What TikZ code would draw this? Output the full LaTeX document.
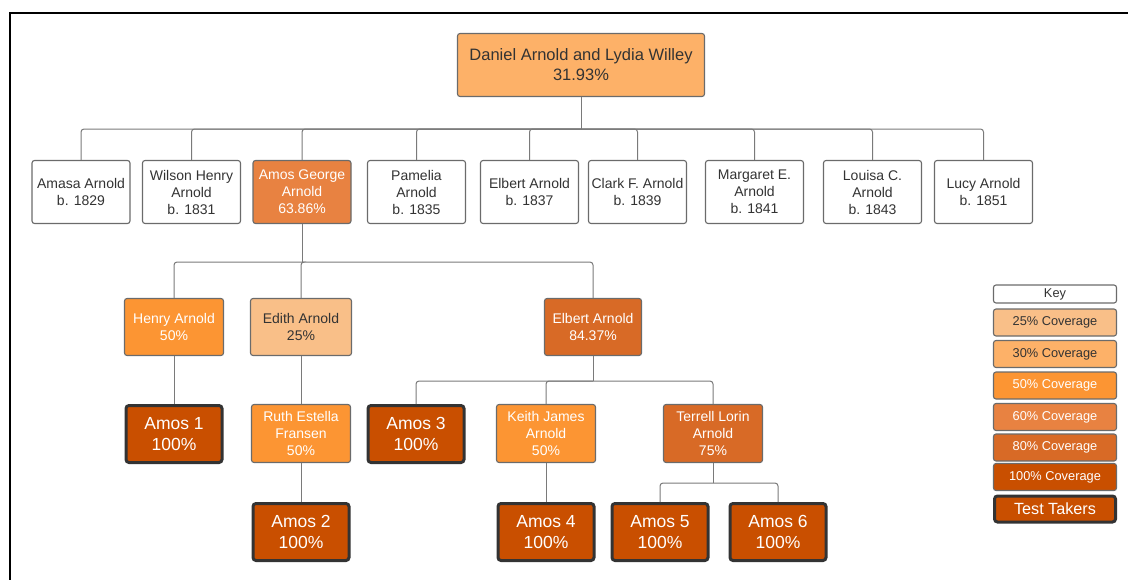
\documentclass[tikz,border=0pt]{standalone}
\usepackage{fontspec}
\setmainfont{Liberation Sans}
\definecolor{cthirty}{HTML}{FDB168}
\definecolor{ctwentyfive}{HTML}{F9BF88}
\definecolor{cfifty}{HTML}{FC9533}
\definecolor{csixty}{HTML}{E88241}
\definecolor{ceighty}{HTML}{D86A26}
\definecolor{chundred}{HTML}{C94F00}
\definecolor{cborder}{HTML}{6B6B6B}
\definecolor{ctext}{HTML}{333333}
\definecolor{cline}{HTML}{7A7A7A}
\tikzset{
  box/.style={draw=cborder, line width=1.1pt, rounded corners=2.5pt, align=center,
    inner sep=0pt, text=ctext, font=\fontsize{14}{17}\selectfont},
  personbox/.style={box, fill=white, minimum width=98pt, minimum height=63pt},
  midbox/.style={box, minimum width=99pt, minimum height=57pt},
  wtext/.style={text=white},
  amosbox/.style={draw=ctext, line width=3pt, rounded corners=3pt, fill=chundred,
    text=white, align=center, inner sep=0pt, minimum width=96pt, minimum height=57pt,
    font=\fontsize{17.5}{21}\selectfont},
  keybox/.style={box, minimum width=123pt, minimum height=27pt, font=\fontsize{12.8}{15}\selectfont},
  conn/.style={draw=cline, line width=1pt, rounded corners=3pt},
}
\begin{document}
\begin{tikzpicture}[x=1pt,y=-1pt]
\useasboundingbox (0,0) rectangle (1128,579);
% frame
\draw[line width=2.2pt] (10,585) -- (10,13) -- (1135,13);

% top
\node[box, fill=cthirty, minimum width=247pt, minimum height=63pt,
  font=\fontsize{16.5}{20}\selectfont] (dan) at (581,65) {Daniel Arnold and Lydia Willey\\31.93\%};

% row 2
\node[personbox] (amasa) at (81,192) {Amasa Arnold\\b. 1829};
\node[personbox] (wilson) at (191.5,192) {Wilson Henry\\Arnold\\b. 1831};
\node[personbox, fill=csixty, wtext] (amosg) at (302,192) {Amos George\\Arnold\\63.86\%};
\node[personbox] (pamelia) at (416.5,192) {Pamelia\\Arnold\\b. 1835};
\node[personbox] (elbert1) at (529.5,192) {Elbert Arnold\\b. 1837};
\node[personbox] (clark) at (637.5,192) {Clark F. Arnold\\b. 1839};
\node[personbox] (margaret) at (754.5,192) {Margaret E.\\Arnold\\b. 1841};
\node[personbox] (louisa) at (872.5,192) {Louisa C.\\Arnold\\b. 1843};
\node[personbox] (lucy) at (983.5,192) {Lucy Arnold\\b. 1851};

\coordinate (b1) at (581,129);
\draw[conn] (dan.south) -- (b1);
\foreach \n in {amasa,wilson,amosg,pamelia,elbert1,clark,margaret,louisa,lucy}
  \draw[conn] (b1) -| (\n.north);

% row 3
\node[midbox, fill=cfifty, wtext] (henry) at (174,327) {Henry Arnold\\50\%};
\node[midbox, fill=ctwentyfive, minimum width=101pt] (edith) at (301,327) {Edith Arnold\\25\%};
\node[midbox, fill=ceighty, wtext, minimum width=97pt] (elbert2) at (593,327) {Elbert Arnold\\84.37\%};

\coordinate (b2) at (302,262);
\draw[conn] (amosg.south) -- (b2);
\foreach \n in {henry,edith,elbert2}
  \draw[conn] (b2) -| (\n.north);

% row 4
\node[amosbox] (amos1) at (174,434) {Amos 1\\100\%};
\node[midbox, fill=cfifty, wtext, minimum height=58pt] (ruth) at (301,433.5) {Ruth Estella\\Fransen\\50\%};
\node[amosbox] (amos3) at (416,434) {Amos 3\\100\%};
\node[midbox, fill=cfifty, wtext, minimum height=58pt] (keith) at (546,433.5) {Keith James\\Arnold\\50\%};
\node[midbox, fill=ceighty, wtext, minimum height=58pt] (terrell) at (713,433.5) {Terrell Lorin\\Arnold\\75\%};

\draw[conn] (henry.south) -- (amos1.north);
\draw[conn] (edith.south) -- (ruth.north);
\coordinate (b3) at (593,381);
\draw[conn] (elbert2.south) -- (b3);
\foreach \n in {amos3,keith,terrell}
  \draw[conn] (b3) -| (\n.north);

% row 5
\node[amosbox] (amos2) at (301,532) {Amos 2\\100\%};
\node[amosbox] (amos4) at (546,532) {Amos 4\\100\%};
\node[amosbox] (amos5) at (660,532) {Amos 5\\100\%};
\node[amosbox] (amos6) at (778,532) {Amos 6\\100\%};

\draw[conn] (ruth.south) -- (amos2.north);
\draw[conn] (keith.south) -- (amos4.north);
\coordinate (b4) at (713,483);
\draw[conn] (terrell.south) -- (b4);
\foreach \n in {amos5,amos6}
  \draw[conn] (b4) -| (\n.north);

% key
\node[keybox, fill=white, minimum height=18pt] (key) at (1055,294) {Key};
\node[keybox, fill=ctwentyfive] (k25) at (1055,322.5) {25\% Coverage};
\node[keybox, fill=cthirty] (k30) at (1055,354) {30\% Coverage};
\node[keybox, fill=cfifty, wtext] (k50) at (1055,385.5) {50\% Coverage};
\node[keybox, fill=csixty, wtext] (k60) at (1055,417) {60\% Coverage};
\node[keybox, fill=ceighty, wtext] (k80) at (1055,447.5) {80\% Coverage};
\node[keybox, fill=chundred, wtext] (k100) at (1055,477) {100\% Coverage};
\node[amosbox, minimum width=121pt, minimum height=26pt, font=\fontsize{16.2}{18}\selectfont] (ktest) at (1055,509) {Test Takers};
\end{tikzpicture}
\end{document}
